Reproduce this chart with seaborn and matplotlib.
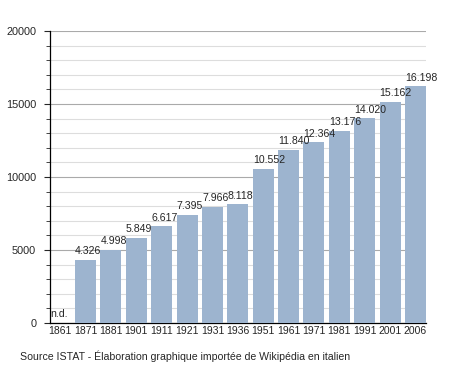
import seaborn as sns
import matplotlib.pyplot as plt
import pandas as pd
from matplotlib.ticker import MultipleLocator

sns.set_style("white")
plt.rcParams['font.family'] = ['Liberation Sans', 'DejaVu Sans']

years = ["1861", "1871", "1881", "1901", "1911", "1921", "1931", "1936",
         "1951", "1961", "1971", "1981", "1991", "2001", "2006"]
population = [0, 4326, 4998, 5849, 6617, 7395, 7966, 8118,
              10552, 11840, 12364, 13176, 14020, 15162, 16198]
labels = ["n.d.", "4.326", "4.998", "5.849", "6.617", "7.395", "7.966", "8.118",
          "10.552", "11.840", "12.364", "13.176", "14.020", "15.162", "16.198"]

df = pd.DataFrame({"anno": years, "abitanti": population})

fig = plt.figure(figsize=(4.55, 3.73), dpi=100)
ax = fig.add_axes([0.11, 0.134, 0.826, 0.783])

sns.barplot(data=df, x="anno", y="abitanti", color="#9db4cf", width=0.83,
            saturation=1, edgecolor="none", linewidth=0, ax=ax, zorder=3)

ax.set_ylim(0, 20000)
ax.set_xlim(-0.4, len(years) - 0.59)
ax.yaxis.set_major_locator(MultipleLocator(5000))
ax.yaxis.set_minor_locator(MultipleLocator(1000))
ax.grid(axis="y", which="major", color="#aaaaaa", lw=0.8, zorder=0)
ax.grid(axis="y", which="minor", color="#dddddd", lw=0.8, zorder=0)
ax.set_axisbelow(True)

for s in ["top", "right"]:
    ax.spines[s].set_visible(False)
for s in ["left", "bottom"]:
    ax.spines[s].set_color("black")
    ax.spines[s].set_linewidth(0.9)

ax.tick_params(axis="y", which="major", length=4, width=0.8, labelsize=7.8, left=True, pad=6)
ax.tick_params(axis="y", which="minor", length=3, width=0.6, left=True)
ax.tick_params(axis="x", length=0, labelsize=7.5, pad=2)
ax.set_xlabel("")
ax.set_ylabel("")

for i, (v, lab) in enumerate(zip(population, labels)):
    ax.text(i - 0.41, v + 250, lab, ha="left", va="bottom", fontsize=7.6)

fig.text(0.045, 0.03, "Source ISTAT - Élaboration graphique importée de Wikipédia en italien",
         fontsize=7.55, ha="left", va="bottom")

fig.savefig("out.png", dpi=100, facecolor="white")
